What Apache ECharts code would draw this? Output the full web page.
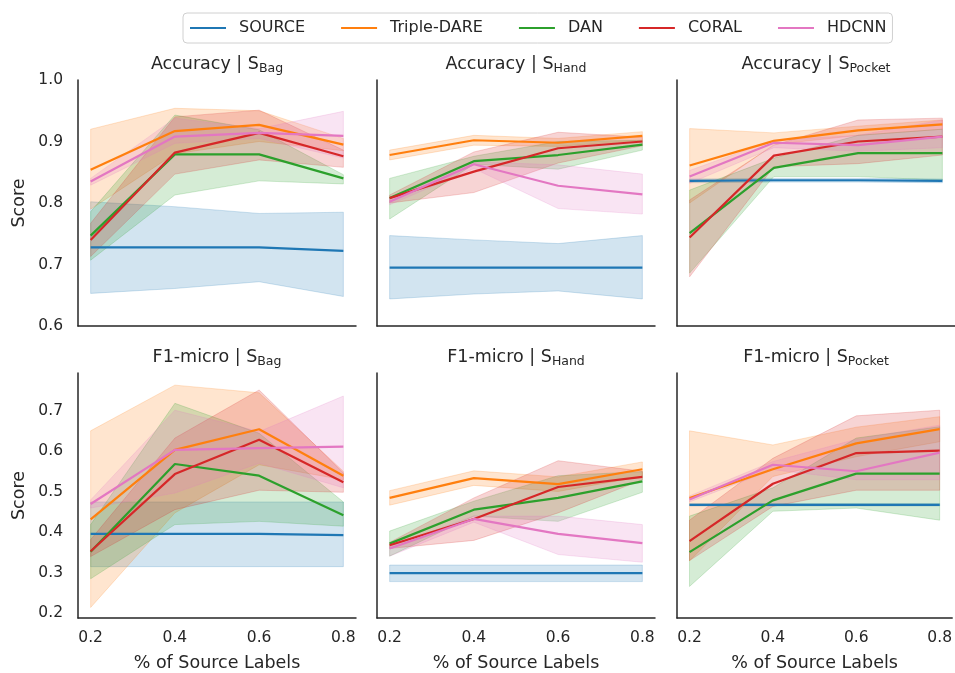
<!DOCTYPE html>
<html>
<head>
<meta charset="utf-8">
<script src="https://cdn.jsdelivr.net/npm/echarts@6/dist/echarts.min.js"></script>
<style>
  html, body { margin: 0; padding: 0; background: #fff; }
  #chart { width: 955px; height: 673px; }
</style>
</head>
<body>
<div id="chart"></div>
<script>
const methods = ['SOURCE', 'Triple-DARE', 'DAN', 'CORAL', 'HDCNN']
const colors = ['#1f77b4', '#ff7f0e', '#2ca02c', '#d62728', '#e377c2']
const xValues = [0.2, 0.4, 0.6, 0.8]
const xTicks = [0.2, 0.4, 0.6, 0.8]
const accTicks = [0.6, 0.7, 0.8, 0.9, 1.0]
const f1Ticks = [0.2, 0.3, 0.4, 0.5, 0.6, 0.7]

// rows follow methods order
const accBagMean = [[0.728, 0.728, 0.728, 0.722], [0.854, 0.917, 0.927, 0.895], [0.747, 0.879, 0.879, 0.840], [0.740, 0.882, 0.914, 0.876], [0.835, 0.908, 0.914, 0.909]]
const accBagLow = [[0.653, 0.661, 0.672, 0.648], [0.790, 0.880, 0.900, 0.885], [0.707, 0.813, 0.836, 0.831], [0.713, 0.847, 0.870, 0.858], [0.829, 0.897, 0.905, 0.873]]
const accBagHigh = [[0.802, 0.794, 0.783, 0.785], [0.920, 0.954, 0.950, 0.905], [0.786, 0.943, 0.919, 0.846], [0.767, 0.940, 0.951, 0.886], [0.840, 0.938, 0.921, 0.949]]

const accHandMean = [[0.695, 0.695, 0.695, 0.695], [0.878, 0.902, 0.898, 0.909], [0.808, 0.868, 0.878, 0.895], [0.808, 0.851, 0.889, 0.900], [0.802, 0.863, 0.828, 0.814]]
const accHandLow = [[0.644, 0.652, 0.657, 0.644], [0.870, 0.894, 0.892, 0.902], [0.774, 0.863, 0.855, 0.886], [0.800, 0.817, 0.865, 0.893], [0.797, 0.856, 0.791, 0.782]]
const accHandHigh = [[0.747, 0.740, 0.734, 0.747], [0.886, 0.910, 0.905, 0.916], [0.840, 0.876, 0.900, 0.902], [0.813, 0.883, 0.915, 0.907], [0.808, 0.867, 0.862, 0.847]]

const accPocketMean = [[0.836, 0.837, 0.837, 0.836], [0.861, 0.901, 0.918, 0.928], [0.751, 0.857, 0.881, 0.881], [0.744, 0.877, 0.900, 0.908], [0.843, 0.898, 0.894, 0.908]]
const accPocketLow = [[0.833, 0.834, 0.834, 0.833], [0.800, 0.895, 0.910, 0.920], [0.686, 0.843, 0.843, 0.837], [0.680, 0.859, 0.864, 0.878], [0.832, 0.890, 0.884, 0.890]]
const accPocketHigh = [[0.839, 0.840, 0.840, 0.839], [0.921, 0.914, 0.925, 0.935], [0.821, 0.873, 0.910, 0.920], [0.805, 0.894, 0.935, 0.938], [0.853, 0.902, 0.910, 0.935]]

const f1BagMean = [[0.396, 0.396, 0.396, 0.393], [0.432, 0.604, 0.655, 0.540], [0.352, 0.569, 0.540, 0.442], [0.353, 0.544, 0.629, 0.524], [0.470, 0.604, 0.608, 0.612]]
const f1BagLow = [[0.315, 0.315, 0.315, 0.315], [0.214, 0.448, 0.567, 0.530], [0.285, 0.419, 0.427, 0.415], [0.340, 0.456, 0.504, 0.499], [0.460, 0.497, 0.571, 0.510]]
const f1BagHigh = [[0.475, 0.475, 0.475, 0.475], [0.651, 0.764, 0.745, 0.551], [0.419, 0.719, 0.645, 0.475], [0.382, 0.633, 0.752, 0.547], [0.480, 0.702, 0.649, 0.737]]

const f1HandMean = [[0.299, 0.299, 0.299, 0.299], [0.485, 0.534, 0.519, 0.556], [0.372, 0.456, 0.485, 0.526], [0.368, 0.433, 0.512, 0.537], [0.360, 0.433, 0.396, 0.373]]
const f1HandLow = [[0.278, 0.278, 0.278, 0.278], [0.467, 0.516, 0.501, 0.538], [0.341, 0.440, 0.427, 0.499], [0.360, 0.380, 0.448, 0.530], [0.341, 0.425, 0.345, 0.326]]
const f1HandHigh = [[0.319, 0.319, 0.319, 0.319], [0.503, 0.552, 0.537, 0.574], [0.403, 0.477, 0.540, 0.550], [0.375, 0.485, 0.577, 0.551], [0.365, 0.440, 0.440, 0.419]]

const f1PocketMean = [[0.468, 0.468, 0.468, 0.468], [0.485, 0.556, 0.620, 0.655], [0.351, 0.479, 0.545, 0.545], [0.378, 0.520, 0.596, 0.602], [0.481, 0.567, 0.551, 0.597]]
const f1PocketLow = [[0.465, 0.465, 0.465, 0.465], [0.329, 0.538, 0.587, 0.624], [0.266, 0.452, 0.460, 0.430], [0.330, 0.464, 0.504, 0.504], [0.475, 0.555, 0.530, 0.530]]
const f1PocketHigh = [[0.471, 0.471, 0.471, 0.471], [0.651, 0.616, 0.660, 0.686], [0.440, 0.510, 0.633, 0.661], [0.430, 0.583, 0.688, 0.702], [0.490, 0.575, 0.630, 0.665]]

const panels = [
  { metric: 'Accuracy', sub: 'Bag', mean: accBagMean, low: accBagLow, high: accBagHigh },
  { metric: 'Accuracy', sub: 'Hand', mean: accHandMean, low: accHandLow, high: accHandHigh },
  { metric: 'Accuracy', sub: 'Pocket', mean: accPocketMean, low: accPocketLow, high: accPocketHigh },
  { metric: 'F1-micro', sub: 'Bag', mean: f1BagMean, low: f1BagLow, high: f1BagHigh },
  { metric: 'F1-micro', sub: 'Hand', mean: f1HandMean, low: f1HandLow, high: f1HandHigh },
  { metric: 'F1-micro', sub: 'Pocket', mean: f1PocketMean, low: f1PocketLow, high: f1PocketHigh },
]

const FONT = 'DejaVu Sans'
const TXT = '#262626'
const colLeft = [78, 377, 677]
const rowTop = [80, 373]
const W = 278, H = 246

const rgba = (hex, a) => {
  const n = parseInt(hex.slice(1), 16)
  return `rgba(${n >> 16},${(n >> 8) & 255},${n & 255},${a})`
}

const grids = [], xAxes = [], yAxes = [], series = [], graphics = []

panels.forEach((p, i) => {
  const row = Math.floor(i / 3), col = i % 3
  grids.push({ left: colLeft[col], top: rowTop[row], width: W, height: H })
  xAxes.push({
    type: 'value', gridIndex: i, min: 0.17, max: 0.83,
    name: row === 1 ? '% of Source Labels' : '', nameLocation: 'middle', nameGap: 36,
    nameTextStyle: { fontFamily: FONT, fontSize: 17.5, color: TXT },
    axisLine: { show: true, lineStyle: { color: TXT, width: 1.5 } },
    axisTick: { show: false },
    splitLine: { show: false },
    axisLabel: {
      show: row === 1, customValues: xTicks, margin: 12,
      fontFamily: FONT, fontSize: 15.5, color: TXT,
      formatter: v => v.toFixed(1)
    }
  })
  const ticks = row === 0 ? accTicks : f1Ticks
  yAxes.push({
    type: 'value', gridIndex: i,
    min: row === 0 ? 0.6 : 0.188, max: row === 0 ? 1.0 : 0.794,
    name: col === 0 ? 'Score' : '', nameLocation: 'middle', nameGap: 50, nameRotate: 90,
    nameTextStyle: { fontFamily: FONT, fontSize: 17.5, color: TXT },
    axisLine: { show: true, lineStyle: { color: TXT, width: 1.5 } },
    axisTick: { show: false },
    splitLine: { show: false },
    axisLabel: {
      show: col === 0, customValues: ticks, margin: 15,
      fontFamily: FONT, fontSize: 15.5, color: TXT,
      formatter: v => v.toFixed(1)
    }
  })

  methods.forEach((m, k) => {
    const lo = p.low[k], hi = p.high[k]
    series.push({
      type: 'custom', xAxisIndex: i, yAxisIndex: i, silent: true, z: 1,
      data: [[xValues[0], p.mean[k][0]]],
      renderItem: (params, api) => {
        const pts = xValues.map((x, j) => api.coord([x, hi[j]]))
        for (let j = xValues.length - 1; j >= 0; j--) pts.push(api.coord([xValues[j], lo[j]]))
        return {
          type: 'polygon', shape: { points: pts },
          style: { fill: rgba(colors[k], 0.2), stroke: rgba(colors[k], 0.2), lineWidth: 1 }
        }
      }
    })
  })
  methods.forEach((m, k) => {
    series.push({
      type: 'line', name: m, xAxisIndex: i, yAxisIndex: i, z: 3,
      data: xValues.map((x, j) => [x, p.mean[k][j]]),
      symbol: 'none', silent: true,
      lineStyle: { width: 2.2, color: colors[k] },
      itemStyle: { color: colors[k] }
    })
  })

  graphics.push({
    type: 'text', x: colLeft[col] + W / 2, y: rowTop[row] - 27,
    style: {
      text: `{m|${p.metric} | S}{s|${p.sub}}`,
      align: 'center', verticalAlign: 'top',
      rich: {
        m: { fontFamily: FONT, fontSize: 17.5, lineHeight: 22, fill: TXT, color: TXT },
        s: { fontFamily: FONT, fontSize: 12.5, lineHeight: 13, verticalAlign: 'bottom', fill: TXT, color: TXT }
      }
    }
  })
})

const chart = echarts.init(document.getElementById('chart'))
chart.setOption({
  animation: false,
  backgroundColor: '#fff',
  grid: grids,
  xAxis: xAxes,
  yAxis: yAxes,
  graphic: graphics,
  legend: {
    data: methods,
    left: 183, top: 13,
    padding: [7, 6, 7, 7],
    icon: 'rect',
    itemWidth: 36, itemHeight: 2, itemGap: 36,
    borderColor: '#d0d0d0', borderWidth: 1, borderRadius: 4,
    textStyle: { fontFamily: FONT, fontSize: 16, color: TXT, padding: [0, 0, 0, 8] }
  },
  series
})
</script>
</body>
</html>
